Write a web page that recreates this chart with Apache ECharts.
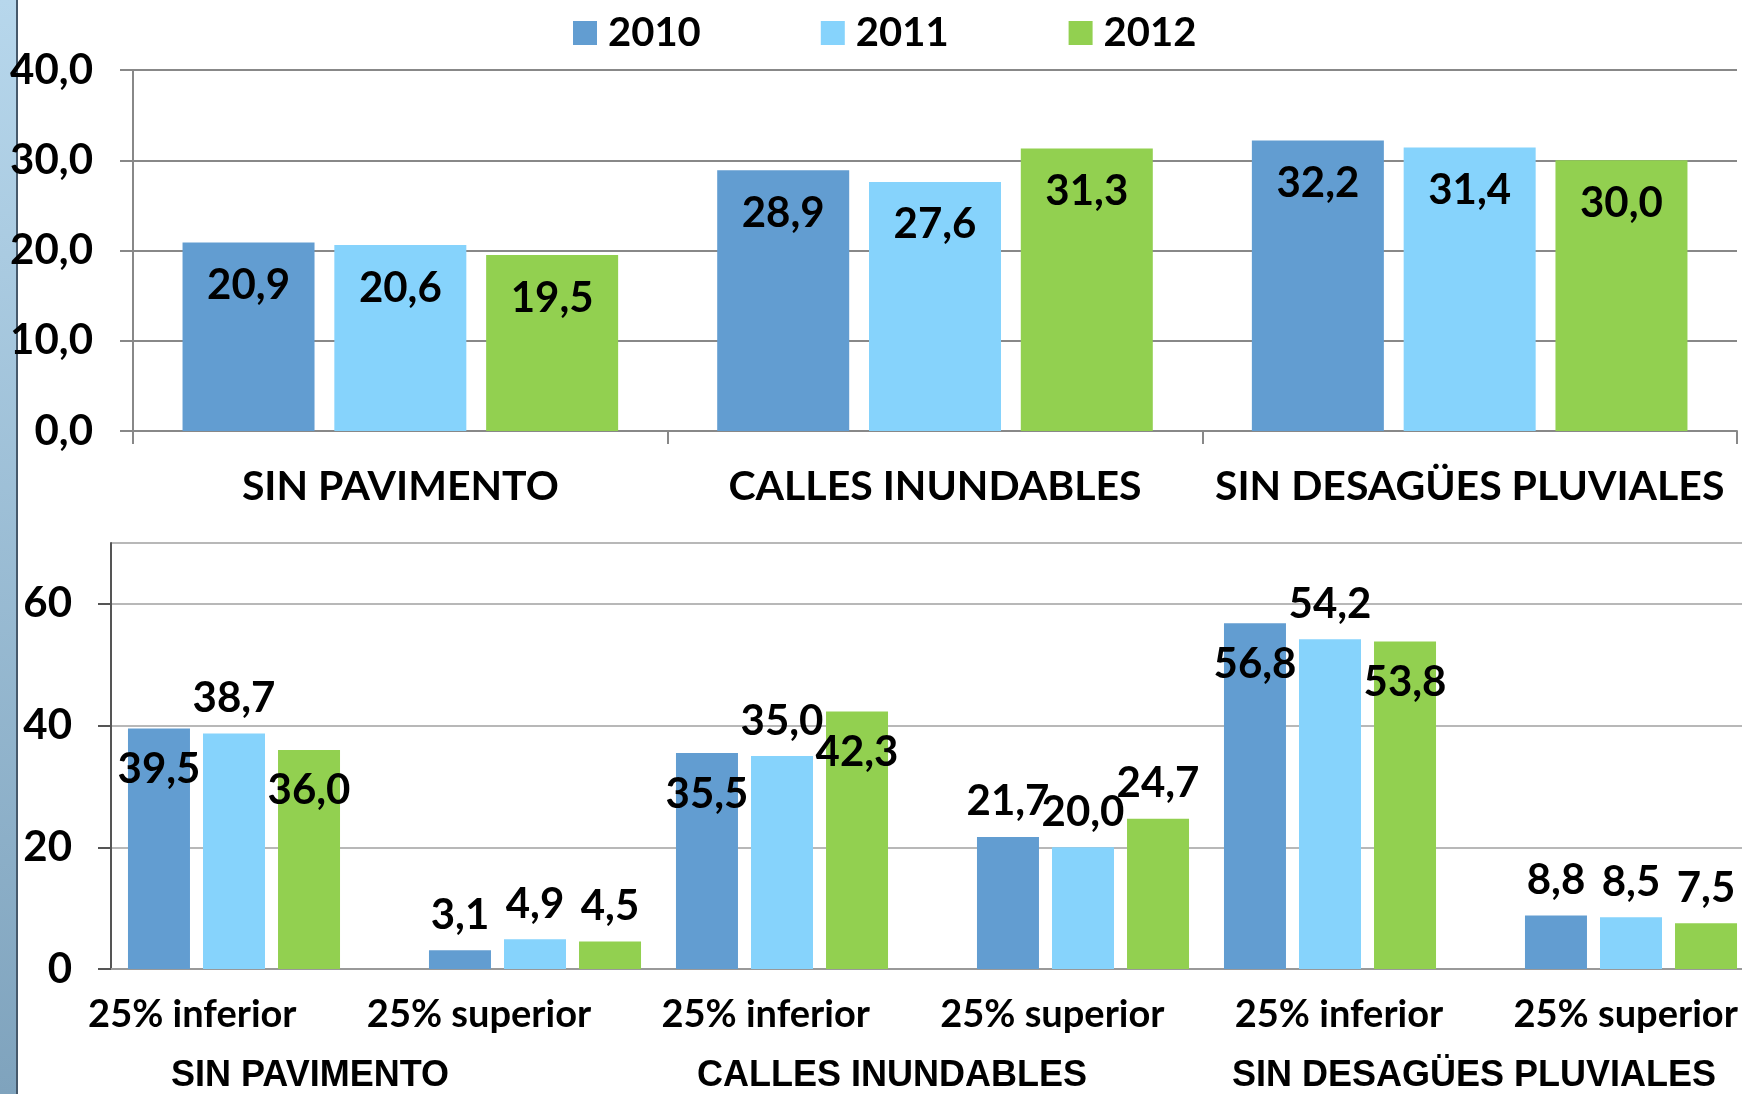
<!DOCTYPE html>
<html>
<head>
<meta charset="utf-8">
<title>Indicadores 2010-2012</title>
<script src="https://cdn.jsdelivr.net/npm/echarts@6/dist/echarts.min.js"></script>
<style>
    html, body { margin: 0; padding: 0; background: #fff; }
    #chart { width: 1742px; height: 1094px; }
</style>
</head>
<body>
<div id="chart"></div>
<script>
// Years (series)
var years = ['2010', '2011', '2012'];

// Top chart
var topCategories = ['SIN PAVIMENTO', 'CALLES INUNDABLES', 'SIN DESAGÜES PLUVIALES'];
var top2010 = [20.9, 28.9, 32.2];
var top2011 = [20.6, 27.6, 31.4];
var top2012 = [19.5, 31.3, 30.0];
var topAxisRange = [0, 40, 10];        // min, max, interval

// Bottom chart
var bottomCategories = ['25% inferior', '25% superior', '25% inferior', '25% superior', '25% inferior', '25% superior'];
var bottomGroups = ['SIN PAVIMENTO', 'CALLES INUNDABLES', 'SIN DESAGÜES PLUVIALES'];
var bottom2010 = [39.5, 3.1, 35.5, 21.7, 56.8, 8.8];
var bottom2011 = [38.7, 4.9, 35.0, 20.0, 54.2, 8.5];
var bottom2012 = [36.0, 4.5, 42.3, 24.7, 53.8, 7.5];
var bottomAxisRange = [0, 70, 20];

(function() {
    'use strict';

    var yearColors = {
        '2010': '#629dd1',   // Blue
        '2011': '#86d3fc',   // Light blue
        '2012': '#92d050'    // Green
    };

    var font = 'Lato, "Open Sans", sans-serif';
    var topData = [top2010, top2011, top2012];
    var bottomData = [bottom2010, bottom2011, bottom2012];

    function comma(v) {
        return v.toFixed(1).replace('.', ',');
    }

    var chart = echarts.init(document.getElementById('chart'));

    // bottom plot: frame grid + two shifted grids for the bars + label grids
    // (the original plot runs a bit past the right edge of the picture)
    var bTop = 543, bHeight = 426, bWidth = 1644;

    function grid(left, top, width, height) {
        return { left: left, top: top, width: width, height: height, outerBoundsMode: 'none' };
    }

    var grids = [
        grid(133, 70, 1604, 361),
        grid(111, bTop, bWidth, bHeight),
        grid(97, bTop, bWidth, bHeight),
        grid(124, bTop, bWidth, bHeight),
        grid(49, bTop, 1720, bHeight),
        grid(19, bTop, 1746, bHeight)
    ];

    function hiddenX(g, cats) {
        return { type: 'category', gridIndex: g, data: cats, show: false };
    }
    function hiddenY(g) {
        return { type: 'value', gridIndex: g, min: bottomAxisRange[0], max: bottomAxisRange[1], show: false };
    }

    var xAxes = [
        {
            type: 'category', gridIndex: 0, data: topCategories,
            axisLine: { lineStyle: { color: '#888', width: 2 } },
            axisTick: { show: true, length: 13, lineStyle: { color: '#888', width: 2 } },
            axisLabel: { interval: 0, margin: 35, fontSize: 41, fontWeight: 'bold', color: '#000', fontFamily: font }
        },
        {
            type: 'category', gridIndex: 1, data: bottomCategories,
            axisLine: { lineStyle: { color: '#999', width: 2 } },
            axisTick: { show: false },
            axisLabel: { show: false }
        },
        hiddenX(2, bottomCategories),
        hiddenX(3, bottomCategories),
        {
            type: 'category', gridIndex: 4, data: bottomCategories,
            axisLine: { show: false }, axisTick: { show: false },
            axisLabel: { interval: 0, margin: 27, fontSize: 38, fontWeight: 'bold', color: '#000', fontFamily: font }
        },
        {
            type: 'category', gridIndex: 5, data: bottomGroups,
            axisLine: { show: false }, axisTick: { show: false },
            axisLabel: { interval: 0, margin: 89, fontSize: 36, fontWeight: 'bold', color: '#000',
                fontFamily: '"Liberation Sans", Arial, sans-serif' }
        }
    ];

    var yAxes = [
        {
            type: 'value', gridIndex: 0,
            min: topAxisRange[0], max: topAxisRange[1], interval: topAxisRange[2],
            axisLine: { show: true, lineStyle: { color: '#888', width: 2 } },
            axisTick: { show: true, length: 13, lineStyle: { color: '#888', width: 2 } },
            splitLine: { lineStyle: { color: '#888', width: 2 } },
            axisLabel: {
                margin: 40, fontSize: 42, fontWeight: 'bold', color: '#000', fontFamily: font,
                formatter: function(v) { return comma(v); }
            }
        },
        {
            type: 'value', gridIndex: 1,
            min: bottomAxisRange[0], max: bottomAxisRange[1], interval: bottomAxisRange[2],
            axisLine: { show: true, lineStyle: { color: '#555', width: 2 } },
            axisTick: { show: true, length: 13, lineStyle: { color: '#555', width: 2 } },
            splitLine: { lineStyle: { color: '#b8b8b8', width: 2 } },
            axisLabel: {
                margin: 39, fontSize: 42, fontWeight: 'bold', color: '#000', fontFamily: font,
                showMaxLabel: false
            }
        },
        hiddenY(2), hiddenY(3), hiddenY(4), hiddenY(5)
    ];

    function valueLabel(position, distance) {
        return {
            show: true,
            position: position,
            distance: distance,
            fontSize: 42,
            fontWeight: 'bold',
            color: '#000',
            fontFamily: font,
            formatter: function(p) { return comma(p.value); }
        };
    }

    var series = [];

    // Top chart bars
    years.forEach(function(y, i) {
        series.push({
            name: y, type: 'bar', xAxisIndex: 0, yAxisIndex: 0,
            barWidth: 132, barGap: '15%',
            itemStyle: { color: yearColors[y] },
            label: valueLabel('insideTop', 22),
            data: topData[i]
        });
    });

    // Bottom chart: "inferior" bars (even categories)
    years.forEach(function(y, i) {
        series.push({
            name: y, type: 'bar', xAxisIndex: 2, yAxisIndex: 2,
            barWidth: 62, barGap: '21%',
            itemStyle: { color: yearColors[y] },
            label: i === 1 ? valueLabel('top', 14) : valueLabel('insideTop', 20),
            data: bottomData[i].map(function(v, k) { return k % 2 === 0 ? v : null; })
        });
    });

    // Bottom chart: "superior" bars (odd categories)
    years.forEach(function(y, i) {
        series.push({
            name: y, type: 'bar', xAxisIndex: 3, yAxisIndex: 3,
            barWidth: 62, barGap: '21%',
            itemStyle: { color: yearColors[y] },
            label: valueLabel('top', 14),
            data: bottomData[i].map(function(v, k) { return k % 2 === 1 ? v : null; })
        });
    });

    var option = {
        animation: false,
        backgroundColor: '#fff',
        graphic: [
            {
                type: 'rect', left: 0, top: 0, z: -10,
                shape: { width: 16, height: 1094 },
                style: {
                    fill: new echarts.graphic.LinearGradient(0, 0, 0, 1, [
                        { offset: 0, color: '#b7d7ec' },
                        { offset: 1, color: '#7fa3bd' }
                    ])
                }
            },
            {
                type: 'rect', left: 16, top: 0, z: -10,
                shape: { width: 2, height: 1094 },
                style: { fill: '#46596b' }
            }
        ],
        legend: {
            data: years,
            left: 568,
            top: 8,
            icon: 'rect',
            itemWidth: 24,
            itemHeight: 24,
            itemGap: 120,
            selectedMode: false,
            textStyle: {
                fontSize: 40, fontWeight: 'bold', color: '#000', fontFamily: font,
                padding: [0, 0, 0, 6]
            }
        },
        grid: grids,
        xAxis: xAxes,
        yAxis: yAxes,
        series: series
    };

    chart.setOption(option);

    window.addEventListener('resize', function() {
        chart.resize();
    });
})();
</script>
</body>
</html>
